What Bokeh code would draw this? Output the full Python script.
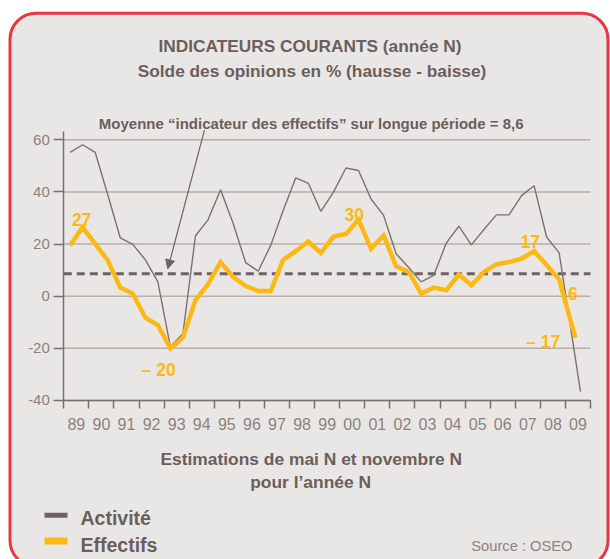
from bokeh.plotting import figure
from bokeh.models import (Range1d, FixedTicker, Label, BoxAnnotation,
                          Arrow, NormalHead)
from bokeh.embed import file_html
from bokeh.resources import INLINE

# ---------------- data ----------------
annees = ["89", "90", "91", "92", "93", "94", "95", "96", "97", "98", "99",
          "00", "01", "02", "03", "04", "05", "06", "07", "08", "09"]

# estimation dates: year index -0.25 (mai N) and +0.25 (novembre N)
x_activite = [-0.25, 0.25, 0.75, 1.25, 1.75, 2.25, 2.75, 3.25, 3.75, 4.25,
              4.75, 5.25, 5.75, 6.25, 6.75, 7.25, 7.75, 8.25, 8.75, 9.25,
              9.75, 10.25, 10.75, 11.25, 11.75, 12.25, 12.75, 13.25, 13.75, 14.25,
              14.75, 15.25, 15.75, 16.25, 16.75, 17.25, 17.75, 18.25, 18.75, 19.25,
              20.1]
x_effectifs = [-0.25, 0.25, 0.75, 1.25, 1.75, 2.25, 2.75, 3.25, 3.75, 4.25,
               4.75, 5.25, 5.75, 6.25, 6.75, 7.25, 7.75, 8.25, 8.75, 9.25,
               9.75, 10.25, 10.75, 11.25, 11.75, 12.25, 12.75, 13.25, 13.75, 14.25,
               14.75, 15.25, 15.75, 16.25, 16.75, 17.25, 17.75, 18.25, 18.75, 19.25,
               19.9]

activite = [55.2, 58.1, 55.2, 39.0, 22.4, 19.9, 14.0, 5.5, -19.4, -14.3,
            23.2, 29.3, 40.8, 28.0, 12.9, 9.6, 19.5, 33.0, 45.4, 43.3,
            32.5, 39.9, 49.2, 48.2, 37.3, 31.0, 16.3, 11.0, 5.5, 8.0,
            20.4, 26.9, 19.7, 25.6, 31.2, 31.2, 38.6, 42.4, 22.7, 16.6,
            -36.6]
effectifs = [19.5, 26.5, 20.1, 13.8, 3.3, 1.0, -8.2, -11.1, -20.0, -15.8,
             -1.5, 4.6, 13.1, 7.4, 3.9, 2.0, 2.0, 14.0, 17.3, 21.0,
             16.6, 22.9, 23.9, 29.4, 18.2, 23.3, 11.5, 9.3, 1.0, 3.3,
             2.3, 8.3, 4.2, 9.3, 12.2, 13.1, 14.4, 17.3, 12.0, 6.4,
             -16.0]

moyenne_effectifs = 8.6
y_ticks = [-40, -20, 0, 20, 40, 60]

# value labels on the Effectifs curve: (text, x, y)
etiquettes = [("27", 0.21, 29.4), ("\u2013 20", 3.28, -28.4), ("30", 11.08, 31.4),
              ("17", 18.1, 20.8), ("6", 19.8, 1.0), ("\u2013 17", 18.61, -17.6)]

titre = "INDICATEURS COURANTS (ann\u00e9e N)"
sous_titre = "Solde des opinions en % (hausse - baisse)"
note_moyenne = "Moyenne \u201cindicateur des effectifs\u201d sur longue p\u00e9riode = 8,6"
axe_x_1 = "Estimations de mai N et novembre N"
axe_x_2 = "pour l\u2019ann\u00e9e N"
source = "Source : OSEO"

# ---------------- style ----------------
FONT = "Liberation Sans"
C_TEXT = "#6B5E5C"
C_TICK = "#8E817C"
C_AXIS = "#7D6F6B"
C_GRID = "#B9AEA8"
C_ACT = "#7E706C"
C_EFF = "#FDB913"
C_DASH = "#6E6264"
C_BG = "#E9E7E5"
C_RED = "#EA3640"

X0, X1 = -0.5, len(annees) - 0.5       # extent of the time axis
Y0, Y1 = y_ticks[0], 63.2              # extent of the value axis

# the plotting frame covers the whole canvas; axes are placed at fixed locations
p = figure(width=610, height=559,
           x_range=Range1d(-3.024, 21.297), y_range=Range1d(-100.99, 113.43),
           output_backend="svg", toolbar_location=None,
           min_border=0, background_fill_color="white",
           border_fill_color="white", outline_line_color=None)

# rounded panel
cadre = BoxAnnotation(left=9.5, right=607.5, top=12.7, bottom=566,
                      left_units="canvas", right_units="canvas",
                      top_units="canvas", bottom_units="canvas",
                      fill_color=C_BG, fill_alpha=1.0,
                      line_color=C_RED, line_alpha=1.0, line_width=3,
                      border_radius=26, level="underlay")
p.center = [cadre] + list(p.center)

# axes
p.xaxis.fixed_location = Y0
p.xaxis.bounds = (X0, X1)
p.xaxis.ticker = FixedTicker(ticks=list(range(len(annees))),
                             minor_ticks=[i - 0.5 for i in range(len(annees) + 1)])
p.xaxis.major_label_overrides = {i: a for i, a in enumerate(annees)}
p.xaxis.major_tick_line_color = None
p.xaxis.major_tick_out = 0
p.xaxis.major_tick_in = 0
p.xaxis.minor_tick_line_color = C_AXIS
p.xaxis.minor_tick_line_width = 1.5
p.xaxis.minor_tick_out = 8
p.xaxis.minor_tick_in = 0
p.xaxis.major_label_standoff = 10
p.xaxis.major_label_text_font_size = "16px"

p.yaxis.fixed_location = X0
p.yaxis.bounds = (Y0, Y1)
p.yaxis.ticker = FixedTicker(ticks=y_ticks)
p.yaxis.major_label_overrides = {t: str(t) for t in y_ticks}
p.yaxis.major_tick_out = 10
p.yaxis.major_tick_in = 0
p.yaxis.major_tick_line_color = C_AXIS
p.yaxis.major_tick_line_width = 1.5
p.yaxis.minor_tick_line_color = None
p.yaxis.major_label_standoff = 4
p.yaxis.major_label_text_font_size = "15px"

for ax in (p.xaxis, p.yaxis):
    ax.axis_line_color = C_AXIS
    ax.axis_line_width = 1.5
    ax.major_label_text_font = FONT
    ax.major_label_text_color = C_TICK

p.xgrid.visible = False
p.ygrid.visible = False
# horizontal grid lines, limited to the extent of the time axis
p.segment(x0=[X0] * len(y_ticks), x1=[X1] * len(y_ticks), y0=y_ticks, y1=y_ticks,
          line_color=C_GRID, line_width=1.5)

# long-period mean of Effectifs
p.segment(x0=[X0], x1=[X1], y0=[moyenne_effectifs], y1=[moyenne_effectifs],
          line_color=C_DASH, line_width=3, line_dash="8 5")

# series
p.line(x_activite, activite, line_color=C_ACT, line_width=1.4)
p.line(x_effectifs, effectifs, line_color=C_EFF, line_width=4.5,
       line_join="miter")

for t, x, y in etiquettes:
    p.add_layout(Label(x=x, y=y, text=t, text_font=FONT,
                       text_font_size="17.5px", text_font_style="bold",
                       text_color=C_EFF, text_align="center",
                       text_baseline="alphabetic"))

# arrow towards the mean line
p.add_layout(Arrow(x_start=204, y_start=129.3, x_end=167.3, y_end=268.3,
                   start_units="canvas", end_units="canvas",
                   line_color=C_DASH, line_width=1.2,
                   end=NormalHead(size=9, fill_color=C_DASH, line_color=C_DASH)))


def texte(t, x, y, size, bold=True, color=C_TEXT, align="center"):
    p.add_layout(Label(x=x, y=y, x_units="canvas", y_units="canvas", text=t,
                       text_font=FONT, text_font_size=size,
                       text_font_style="bold" if bold else "normal",
                       text_color=color, text_align=align,
                       text_baseline="alphabetic"))


texte(titre, 309.5, 45, "17.3px")
texte(sous_titre, 311.5, 70, "17.3px")
texte(note_moyenne, 310.7, 122.7, "15px")
texte(axe_x_1, 310.7, 458.3, "17.4px")
texte(axe_x_2, 310.1, 481.7, "17.4px")
texte("Activit\u00e9", 80, 517.3, "19.5px", align="left")
texte("Effectifs", 80, 544, "19.5px", align="left")
texte(source, 572, 545, "14.7px", bold=False, color=C_TICK, align="right")

# legend swatches
p.add_layout(BoxAnnotation(left=44, right=67, top=512.3, bottom=517.3,
                           left_units="canvas", right_units="canvas",
                           top_units="canvas", bottom_units="canvas",
                           fill_color=C_DASH, fill_alpha=1.0, line_color=None))
p.add_layout(BoxAnnotation(left=44, right=67, top=537, bottom=544,
                           left_units="canvas", right_units="canvas",
                           top_units="canvas", bottom_units="canvas",
                           fill_color=C_EFF, fill_alpha=1.0, line_color=None))

open("out.html", "w").write(file_html(p, INLINE))
